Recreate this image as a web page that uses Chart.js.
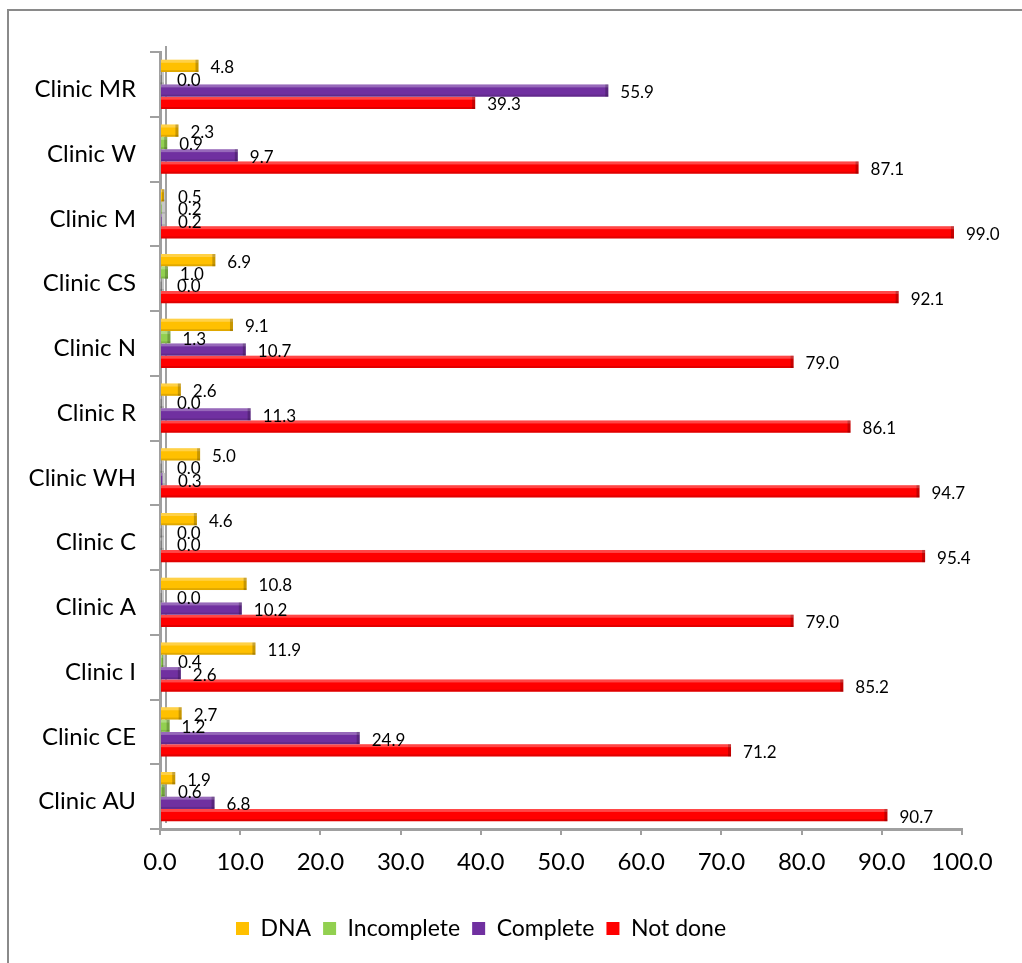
<!DOCTYPE html>
<html>
<head>
<meta charset="utf-8">
<title>Clinic outcomes</title>
<script src="https://cdn.jsdelivr.net/npm/chart.js@4.4.1/dist/chart.umd.min.js"></script>
<style>
  body { margin: 0; background: #fff; }
  #wrap { position: relative; width: 1022px; height: 963px; overflow: hidden; }
  #frame { position: absolute; left: 7px; top: 9px; width: 1100px; height: 1100px; border: 2px solid #8a8a8a; }
  #graph { position: absolute; left: 0; top: 0; }
</style>
</head>
<body>
<div id="wrap">
  <div id="frame"></div>
  <canvas id="graph" width="1022" height="963"></canvas>
</div>
<script>
// categories, top to bottom
const clinics = ["Clinic MR", "Clinic W", "Clinic M", "Clinic CS", "Clinic N", "Clinic R",
  "Clinic WH", "Clinic C", "Clinic A", "Clinic I", "Clinic CE", "Clinic AU"];

const dna = [4.8, 2.3, 0.5, 6.9, 9.1, 2.6, 5.0, 4.6, 10.8, 11.9, 2.7, 1.9];
const incomplete = [0.0, 0.9, 0.2, 1.0, 1.3, 0.0, 0.0, 0.0, 0.0, 0.4, 1.2, 0.6];
const complete = [55.9, 9.7, 0.2, 0.0, 10.7, 11.3, 0.3, 0.0, 10.2, 2.6, 24.9, 6.8];
const notDone = [39.3, 87.1, 99.0, 92.1, 79.0, 86.1, 94.7, 95.4, 79.0, 85.2, 71.2, 90.7];

const FONT = "Lato, 'Open Sans', sans-serif";
const AXIS_GREY = "#a0a0a0";

// value printed just past the end of every bar
const barLabels = {
  id: "barLabels",
  afterDatasetsDraw(chart) {
    const ctx = chart.ctx;
    ctx.save();
    ctx.font = "17px " + FONT;
    ctx.fillStyle = "#000";
    ctx.textAlign = "left";
    ctx.textBaseline = "middle";
    chart.data.datasets.forEach((ds, i) => {
      chart.getDatasetMeta(i).data.forEach((bar, j) => {
        const x = Math.max(bar.x, bar.base + 5) + 12;
        ctx.fillText(ds.data[j].toFixed(1), x, bar.y + 2);
      });
    });
    ctx.restore();
  }
};

// light top face and dark end cap so the bars look extruded
const bevel = {
  id: "bevel",
  beforeDatasetsDraw(chart) {
    const ctx = chart.ctx;
    const a = chart.chartArea;
    ctx.save();
    ctx.strokeStyle = AXIS_GREY;
    ctx.lineWidth = 2;
    ctx.beginPath();
    ctx.moveTo(a.left + 6, a.top - 6);
    ctx.lineTo(a.left + 6, a.bottom - 6);
    ctx.stroke();
    ctx.restore();
  },
  afterDatasetsDraw(chart) {
    const ctx = chart.ctx;
    ctx.save();
    chart.data.datasets.forEach((ds, i) => {
      chart.getDatasetMeta(i).data.forEach((bar) => {
        const h = bar.height;
        const top = bar.y - h / 2;
        const end = Math.max(bar.x, bar.base + 4);
        ctx.fillStyle = "rgba(255,255,255,0.28)";
        ctx.fillRect(bar.base, top, end - bar.base, 3);
        ctx.fillStyle = "rgba(0,0,0,0.22)";
        ctx.fillRect(end - 3, top, 3, h);
        ctx.fillStyle = "rgba(0,0,0,0.12)";
        ctx.fillRect(bar.base, top + h - 2, end - bar.base, 2);
      });
    });
    ctx.restore();
  }
};

const graph = new Chart(document.getElementById("graph"), {
  type: "bar",
  data: {
    labels: clinics,
    datasets: [
      { label: "DNA", data: dna, backgroundColor: "#ffc000" },
      { label: "Incomplete", data: incomplete, backgroundColor: "#92d050" },
      { label: "Complete", data: complete, backgroundColor: "#7030a0" },
      { label: "Not done", data: notDone, backgroundColor: "#ff0000" }
    ]
  },
  options: {
    indexAxis: "y",
    responsive: false,
    animation: false,
    datasets: {
      bar: { barPercentage: 1.0, categoryPercentage: 0.76 }
    },
    layout: {
      padding: { top: 52, right: 60, left: 0, bottom: 13 }
    },
    plugins: {
      tooltip: { enabled: false },
      legend: {
        position: "bottom",
        labels: {
          color: "#000",
          boxWidth: 13,
          boxHeight: 13,
          padding: 12,
          font: { family: FONT, size: 23 }
        }
      }
    },
    scales: {
      x: {
        min: 0,
        max: 100,
        ticks: {
          stepSize: 10,
          color: "#000",
          padding: 13,
          font: { family: FONT, size: 24 },
          callback: (v) => v.toFixed(1)
        },
        grid: { drawOnChartArea: false, tickLength: 6, color: AXIS_GREY, lineWidth: 2 },
        border: { color: AXIS_GREY, width: 3 },
        afterFit: (scale) => { scale.height = 76; }
      },
      y: {
        ticks: {
          color: "#000",
          padding: 14,
          labelOffset: 5,
          font: { family: FONT, size: 24 }
        },
        grid: { drawOnChartArea: false, tickLength: 10, color: AXIS_GREY, lineWidth: 2 },
        border: { color: AXIS_GREY, width: 3 },
        afterFit: (scale) => { scale.width = 160; }
      }
    }
  },
  plugins: [bevel, barLabels]
});
</script>
</body>
</html>
